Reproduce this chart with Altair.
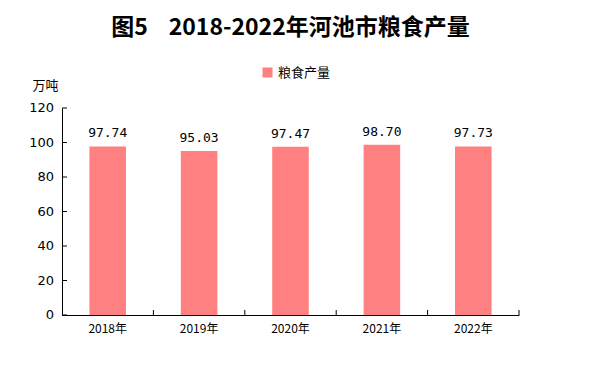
import altair as alt
import pandas as pd

years = ["2018年", "2019年", "2020年", "2021年", "2022年"]
values = [97.74, 95.03, 97.47, 98.70, 97.73]
labels = ["97.74", "95.03", "97.47", "98.70", "97.73"]
series = "粮食产量"
y_ticks = [0, 20, 40, 60, 80, 100, 120]

df = pd.DataFrame({"year": years, "value": values, "label": labels, "series": [series] * len(years)})
tick_df = pd.DataFrame({"t": y_ticks, "tl": [str(v) for v in y_ticks]})

FONT = "Noto Sans CJK SC"
NUMFONT = "DejaVu Sans Mono"

x_enc = alt.X("year:N", sort=years, title=None,
              scale=alt.Scale(paddingInner=0, paddingOuter=0))
y_scale = alt.Scale(domain=[0, 120])

bars = alt.Chart(df).mark_bar(color="#FF8080", width=alt.RelativeBandSize(0.4)).encode(
    x=x_enc,
    y=alt.Y("value:Q", scale=y_scale, title="万吨",
            axis=alt.Axis(values=y_ticks, labels=False)),
    color=alt.Color("series:N", scale=alt.Scale(range=["#FF8080"]),
                    legend=alt.Legend(title=None, orient="none", legendX=199, legendY=-42,
                                      symbolType="square", symbolSize=100, symbolStrokeWidth=0,
                                      labelFont=FONT, labelFontSize=13, labelColor="black")),
)

text = alt.Chart(df).mark_text(dy=-6, baseline="bottom", font=NUMFONT, fontSize=13, color="black").encode(
    x=alt.X("year:N", sort=years, title=None),
    y=alt.Y("value:Q", title="万吨"),
    text="label:N",
)

ylabels = alt.Chart(tick_df).mark_text(align="right", baseline="middle", font="DejaVu Sans",
                                       fontSize=13, color="black").encode(
    y=alt.Y("t:Q", title="万吨"),
    x=alt.value(-8),
    text="tl:N",
)

yticks = alt.Chart(tick_df).mark_rule(color="black", strokeWidth=1).encode(
    y=alt.Y("t:Q", title="万吨"),
    x=alt.value(0),
    x2=alt.value(5),
)

xticks = alt.Chart(df).mark_rule(color="black", strokeWidth=1).encode(
    x=alt.X("year:N", sort=years, bandPosition=1, title=None),
    y=alt.Y("zero:Q", title="万吨"),
    y2="top:Q",
).transform_calculate(zero="0", top="2.9")

chart = alt.layer(bars, text, ylabels, yticks, xticks).properties(
    width=457, height=207,
    autosize=alt.AutoSizeParams(type="none"),
    padding={"left": 54, "top": 100, "right": 50, "bottom": 40},
    title=alt.TitleParams("图5\u00a0\u00a0\u00a0\u00a02018-2022年河池市粮食产量", font=FONT, fontSize=23,
                          fontWeight="bold", color="black", anchor="middle", offset=26),
).configure_view(stroke=None).configure_axisY(
    titleAngle=0, titleFont=FONT, titleFontSize=13, titleFontWeight="normal", titleColor="black",
    titleAlign="center", titleBaseline="middle", titleX=-17, titleY=-23,
    ticks=False, grid=False, domainColor="black",
).configure_axisX(
    labelAngle=0, ticks=False, domainColor="black", grid=False,
    labelFont=FONT, labelFontSize=12, labelColor="black", labelPadding=8,
)

chart.save("out.html", embed_options={"renderer": "svg", "actions": False})
